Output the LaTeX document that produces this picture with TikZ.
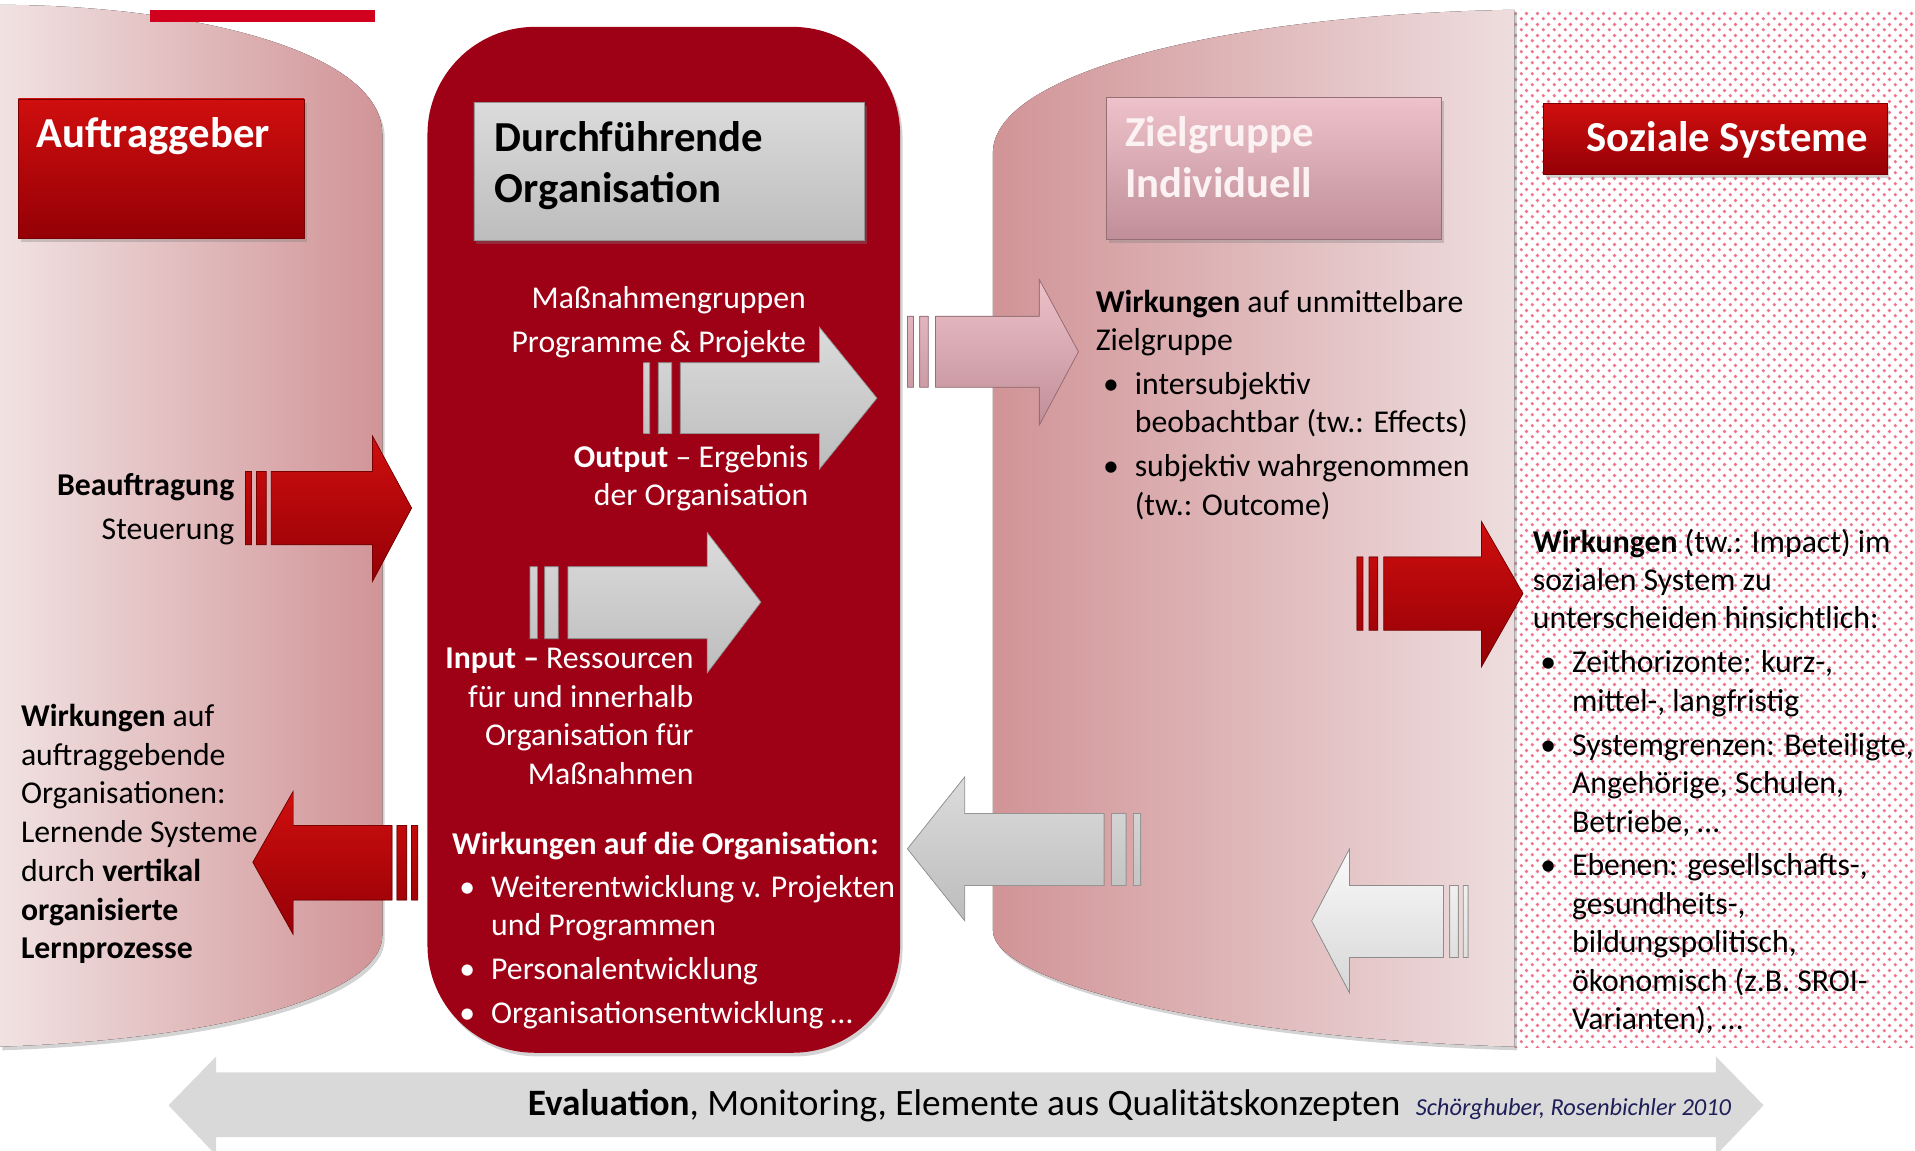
\documentclass[tikz,border=0pt]{standalone}
\usepackage{fontspec}
\setmainfont{Carlito}
\usetikzlibrary{patterns.meta,shadows}

\definecolor{orgred}{RGB}{158,0,22}
\definecolor{barred}{RGB}{208,0,30}
\definecolor{dotpink}{RGB}{238,118,140}
\definecolor{citeblue}{RGB}{30,30,90}
\definecolor{colA}{RGB}{241,226,226}
\definecolor{colB}{RGB}{209,148,151}
\definecolor{colC}{RGB}{238,221,222}

\tikzdeclarepattern{
  name=pinkdots,
  type=uncolored,
  bottom left={(0pt,0pt)},
  top right={(8.7pt,8.7pt)},
  tile size={(8.7pt,8.7pt)},
  code={
    \pgfpathcircle{\pgfpoint{2pt}{2pt}}{1.5pt}
    \pgfpathcircle{\pgfpoint{6.35pt}{6.35pt}}{1.5pt}
    \pgfusepath{fill}
  }
}

\newcommand\listdot{\makebox[32pt][l]{\hspace{6pt}\textbullet}}
\newcommand\listgap{\hspace*{32pt}}

\begin{document}
\begin{tikzpicture}[x=1pt,y=-1pt,
  txt/.style={font={\fontsize{26}{31.5}\selectfont}, inner sep=0pt},
  head/.style={font={\fontsize{35}{42}\selectfont\bfseries}, inner sep=0pt},
  redfill/.style={top color={rgb,255:red,208;green,14;blue,14}, bottom color={rgb,255:red,148;green,0;blue,6}, draw={rgb,255:red,120;green,0;blue,0}, line width=0.6pt},
  grayfill/.style={top color=white!86!black, bottom color=white!74!black, draw=white!58!black, line width=0.6pt},
  pinkfill/.style={top color={rgb,255:red,238;green,194;blue,202}, bottom color={rgb,255:red,192;green,142;blue,152}, draw={rgb,255:red,150;green,110;blue,118}, line width=0.6pt},
  whitefill/.style={top color=white!98!black, bottom color=white!84!black, draw=white!55!black, line width=0.6pt},
  boxshadow/.style={drop shadow={opacity=0.35, shadow xshift=2pt, shadow yshift=-3pt}}]
  \useasboundingbox (0,0) rectangle (1568,942);

  % dotted background of the social systems
  \fill[pattern=pinkdots, pattern color=dotpink] (1240,8) rectangle (1568,858);

  % columns
  \fill[left color=colA, right color=colB, boxshadow] (0,4) .. controls (150,4) and (313,40) .. (313,110)
    -- (313,766) .. controls (313,810) and (200,850) .. (0,857) -- cycle;
  \fill[left color=colB, right color=colC, boxshadow] (1240,8) .. controls (1000,12) and (813,60) .. (813,125)
    -- (813,762) .. controls (813,805) and (1000,850) .. (1240,857) -- cycle;
  \fill[orgred, rounded corners=88, boxshadow] (350,22) rectangle (737,862);
  \fill[barred] (123,8) rectangle (307,18);

  % title boxes
  \fill[redfill, boxshadow] (15,81) rectangle (249,195);
  \fill[grayfill, boxshadow] (388,84) rectangle (708,197);
  \fill[pinkfill, boxshadow] (906,80) rectangle (1180,196);
  \fill[redfill, boxshadow] (1264,85) rectangle (1545,143);

  % arrows
  \fill[redfill] (201,386) rectangle (206,446) (210,386) rectangle (218,446)
    (222,386) -- (305,386) -- (305,357) -- (337,416) -- (305,476) -- (305,446) -- (222,446) -- cycle;
  \fill[grayfill] (527,297) rectangle (532,355) (539,297) rectangle (550,355)
    (557,297) -- (671,297) -- (671,268) -- (718,326) -- (671,384) -- (671,355) -- (557,355) -- cycle;
  \fill[grayfill] (434,464) rectangle (440,523) (446,464) rectangle (457,523)
    (465,464) -- (579,464) -- (579,436) -- (623,493) -- (579,551) -- (579,523) -- (465,523) -- cycle;
  \fill[pinkfill] (743,259) rectangle (748,317) (753,259) rectangle (760,317)
    (766,259) -- (851,259) -- (851,229) -- (883,288) -- (851,348) -- (851,317) -- (766,317) -- cycle;
  \fill[redfill] (1111,456) rectangle (1116,516) (1121,456) rectangle (1128,516)
    (1133,456) -- (1213,456) -- (1213,427) -- (1247,486) -- (1213,546) -- (1213,516) -- (1133,516) -- cycle;
  \fill[redfill] (342,676) rectangle (337,737) (333,676) rectangle (325,737)
    (321,676) -- (240,676) -- (240,648) -- (207,706) -- (240,765) -- (240,737) -- (321,737) -- cycle;
  \fill[grayfill] (934,666) rectangle (928,725) (922,666) rectangle (910,725)
    (904,666) -- (790,666) -- (790,636) -- (743,695) -- (790,754) -- (790,725) -- (904,725) -- cycle;
  \fill[whitefill] (1202,725) rectangle (1198,784) (1194,725) rectangle (1187,784)
    (1182,725) -- (1105,725) -- (1105,695) -- (1074,754) -- (1105,813) -- (1105,784) -- (1182,784) -- cycle;
  \fill[white!85!black] (138,905) -- (177,865) -- (177,878) -- (1405,878) -- (1405,865) -- (1444,905)
    -- (1405,946) -- (1405,931) -- (177,931) -- (177,946) -- cycle;

  % headings (base anchor = last line)
  \node[head, white, anchor=base west] (auftraggeber) at (30,121) {Auftraggeber};
  \node[head, anchor=base west, align=left] (durchfuehrende) at (405,166) {Durchführende\\Organisation};
  \node[head, text={rgb,255:red,252;green,242;blue,244}, anchor=base west, align=left] (zielgruppe) at (921,162) {Zielgruppe\\Individuell};
  \node[head, white, anchor=base west] (sozial) at (1299,124) {Soziale Systeme};

  % texts
  \node[txt, anchor=base east, align=right] (beauftragung) at (192,442) {\textbf{Beauftragung}\\[4.5pt]Steuerung};
  \node[txt, font={\fontsize{26}{31.7}\selectfont}, anchor=base west, align=left] (lernen) at (17,785)
    {\textbf{Wirkungen} auf\\auftraggebende\\Organisationen:\\Lernende Systeme\\durch \textbf{vertikal}\\\textbf{organisierte}\\\textbf{Lernprozesse}};
  \node[txt, white, anchor=base east, align=right] (massnahmen) at (660,289) {Maßnahmengruppen\\[4.5pt]Programme \& Projekte};
  \node[txt, white, anchor=base east, align=right] (output) at (662,414) {\textbf{Output} -- Ergebnis\\der Organisation};
  \node[txt, white, anchor=base east, align=right] (input) at (568,642) {\textbf{Input --} Ressourcen\\für und innerhalb\\Organisation für\\Maßnahmen};
  \node[txt, white, anchor=base west, align=left] (orgwirkung) at (370,838)
    {\textbf{Wirkungen auf die Organisation:}\\[3.5pt]\listdot Weiterentwicklung v. Projekten\\\listgap und Programmen\\[4.5pt]\listdot Personalentwicklung\\[4.5pt]\listdot Organisationsentwicklung …};
  \node[txt, anchor=base west, align=left] (zielwirkung) at (897,422)
    {\textbf{Wirkungen} auf unmittelbare\\Zielgruppe\\[4.5pt]\listdot intersubjektiv\\\listgap beobachtbar (tw.: Effects)\\[4.5pt]\listdot subjektiv wahrgenommen\\\listgap (tw.: Outcome)};
  \node[txt, anchor=base west, align=left] (impact) at (1255,843)
    {\textbf{Wirkungen} (tw.: Impact) im\\sozialen System zu\\unterscheiden hinsichtlich:\\[4.5pt]\listdot Zeithorizonte: kurz-,\\\listgap mittel-, langfristig\\[4.5pt]\listdot Systemgrenzen: Beteiligte,\\\listgap Angehörige, Schulen,\\\listgap Betriebe, …\\[4pt]\listdot Ebenen: gesellschafts-,\\\listgap gesundheits-,\\\listgap bildungspolitisch,\\\listgap ökonomisch (z.B. SROI-\\\listgap Varianten), …};

  \node[anchor=base west, inner sep=0pt, font={\fontsize{30.5}{36}\selectfont}] (evaluation) at (432,913)
    {\textbf{Evaluation}, Monitoring, Elemente aus Qualitätskonzepten};
  \node[anchor=base west, inner sep=0pt, font={\fontsize{20}{24}\selectfont\itshape}, text=citeblue] (quelle)
    at ([xshift=12pt]evaluation.base east) {Schörghuber, Rosenbichler 2010};
\end{tikzpicture}
\end{document}
